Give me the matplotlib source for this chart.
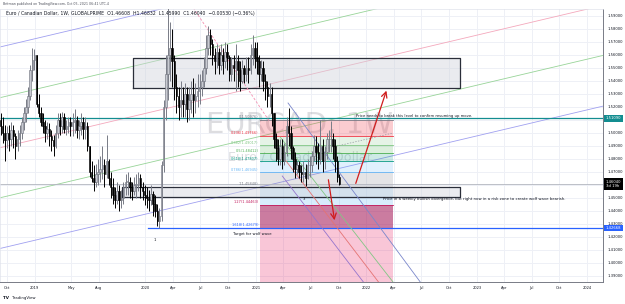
import matplotlib
matplotlib.use("Agg")
import matplotlib.pyplot as plt
import matplotlib.dates as mdates
import numpy as np
import pandas as pd

plt.rcParams['font.family'] = ['DejaVu Sans']

# weekly EURCAD candles, first week 2018-09-10
first_open = 1.5100
closes = [
    1.5050, 1.5000, 1.4940,
    1.5000, 1.4950, 1.5020, 1.4970, 1.4900,
    1.4950, 1.5000, 1.5080, 1.5150,
    1.5200, 1.5280, 1.5480, 1.5560, 1.5600,
    1.5220, 1.5150, 1.5080, 1.5050,
    1.5000, 1.5030, 1.4970, 1.4940,
    1.4900, 1.5000, 1.5100, 1.5050,
    1.5120, 1.5030, 1.5050, 1.5080, 1.5050,
    1.5080, 1.5100, 1.5020, 1.5050,
    1.5080, 1.5030, 1.5050, 1.4900,
    1.4700, 1.4650, 1.4620, 1.4680, 1.4700,
    1.4720, 1.4750, 1.4680, 1.4780,
    1.4650, 1.4580, 1.4520, 1.4480, 1.4550,
    1.4480, 1.4500, 1.4580, 1.4620,
    1.4620, 1.4580, 1.4550, 1.4600,
    1.4600, 1.4650, 1.4580, 1.4550, 1.4520,
    1.4500, 1.4480, 1.4530, 1.4450,
    1.4400, 1.4320, 1.4360, 1.4750,
    1.5200, 1.5450, 1.5600, 1.5650, 1.5550,
    1.5350, 1.5280, 1.5200, 1.5250,
    1.5220, 1.5300, 1.5180, 1.5250,
    1.5300, 1.5250, 1.5280, 1.5320, 1.5350,
    1.5400, 1.5500, 1.5650, 1.5750,
    1.5680, 1.5600, 1.5550, 1.5620, 1.5520,
    1.5600, 1.5550, 1.5620, 1.5580,
    1.5450, 1.5520, 1.5500, 1.5550,
    1.5480, 1.5400, 1.5500, 1.5450, 1.5500,
    1.5480, 1.5600, 1.5650, 1.5580,
    1.5550, 1.5450, 1.5500, 1.5400,
    1.5350, 1.5280, 1.5300, 1.5150,
    1.4950, 1.4880, 1.4800, 1.4900, 1.4780,
    1.4850, 1.5050, 1.5000, 1.4880,
    1.4800, 1.4720, 1.4750, 1.4700, 1.4680,
    1.4700, 1.4650, 1.4750, 1.4750,
    1.4820, 1.4900, 1.4850, 1.4800,
    1.4900, 1.4780, 1.4850, 1.4950, 1.4950,
    1.4950, 1.4900, 1.4780, 1.4661,
    1.4604,
]
highs = [
    1.5150, 1.5120, 1.5060,
    1.5050, 1.5060, 1.5080, 1.5060, 1.5000,
    1.5020, 1.5060, 1.5120, 1.5200,
    1.5260, 1.5350, 1.5520, 1.5650, 1.5640,
    1.5600, 1.5300, 1.5200, 1.5150,
    1.5100, 1.5080, 1.5070, 1.5020,
    1.4980, 1.5060, 1.5150, 1.5150,
    1.5160, 1.5150, 1.5100, 1.5120, 1.5120,
    1.5150, 1.5180, 1.5130, 1.5100,
    1.5150, 1.5120, 1.5120, 1.5080,
    1.4900, 1.4780, 1.4750, 1.4760, 1.4800,
    1.4820, 1.4900, 1.4800, 1.4980,
    1.4800, 1.4700, 1.4650, 1.4580, 1.4620,
    1.4600, 1.4560, 1.4620, 1.4680,
    1.4700, 1.4660, 1.4620, 1.4660,
    1.4680, 1.4700, 1.4680, 1.4620, 1.4600,
    1.4580, 1.4560, 1.4600, 1.4550,
    1.4520, 1.4450, 1.4420, 1.4780,
    1.5250, 1.5600, 1.6000, 1.5850, 1.5800,
    1.5600, 1.5450, 1.5350, 1.5400,
    1.5350, 1.5380, 1.5350, 1.5350,
    1.5400, 1.5420, 1.5380, 1.5450, 1.5450,
    1.5480, 1.5580, 1.5750, 1.5820,
    1.5800, 1.5720, 1.5650, 1.5680, 1.5650,
    1.5680, 1.5650, 1.5700, 1.5680,
    1.5600, 1.5580, 1.5600, 1.5680,
    1.5600, 1.5550, 1.5560, 1.5520, 1.5580,
    1.5580, 1.5680, 1.5750, 1.5700,
    1.5700, 1.5600, 1.5560, 1.5550,
    1.5450, 1.5400, 1.5380, 1.5350,
    1.5120, 1.5000, 1.4950, 1.4950, 1.4950,
    1.4920, 1.5120, 1.5190, 1.5050,
    1.4900, 1.4850, 1.4780, 1.4780, 1.4750,
    1.4780, 1.4760, 1.4800, 1.4820,
    1.4860, 1.4980, 1.4970, 1.4920,
    1.5098, 1.4950, 1.4900, 1.5000, 1.5020,
    1.5090, 1.5000, 1.4950, 1.4820,
    1.46832,
]
lows = [
    1.4980, 1.4920, 1.4780,
    1.4880, 1.4860, 1.4900, 1.4880, 1.4800,
    1.4860, 1.4900, 1.4950, 1.5020,
    1.5080, 1.5150, 1.5250, 1.5400, 1.5480,
    1.5200, 1.5120, 1.5050, 1.5000,
    1.4930, 1.4950, 1.4900, 1.4860,
    1.4820, 1.4880, 1.4960, 1.4980,
    1.5000, 1.5000, 1.4980, 1.5000, 1.4970,
    1.4970, 1.5000, 1.4960, 1.4950,
    1.4980, 1.4950, 1.4950, 1.4860,
    1.4660, 1.4620, 1.4550, 1.4580, 1.4600,
    1.4620, 1.4640, 1.4580, 1.4650,
    1.4600, 1.4500, 1.4450, 1.4420, 1.4450,
    1.4400, 1.4420, 1.4450, 1.4520,
    1.4520, 1.4500, 1.4480, 1.4520,
    1.4500, 1.4550, 1.4500, 1.4480, 1.4440,
    1.4420, 1.4400, 1.4440, 1.4360,
    1.4350, 1.4280, 1.4267, 1.4320,
    1.4700, 1.5100, 1.5250, 1.5400, 1.5350,
    1.5250, 1.5150, 1.5100, 1.5120,
    1.5120, 1.5120, 1.5080, 1.5100,
    1.5150, 1.5120, 1.5150, 1.5200, 1.5220,
    1.5280, 1.5350, 1.5450, 1.5600,
    1.5600, 1.5520, 1.5450, 1.5500, 1.5450,
    1.5480, 1.5450, 1.5500, 1.5480,
    1.5400, 1.5400, 1.5400, 1.5320,
    1.5350, 1.5320, 1.5380, 1.5380, 1.5400,
    1.5380, 1.5450, 1.5520, 1.5500,
    1.5450, 1.5350, 1.5400, 1.5320,
    1.5250, 1.5200, 1.5200, 1.5050,
    1.4880, 1.4780, 1.4750, 1.4750, 1.4720,
    1.4750, 1.4820, 1.4900, 1.4800,
    1.4700, 1.4650, 1.4680, 1.4650, 1.4620,
    1.4620, 1.4585, 1.4640, 1.4660,
    1.4700, 1.4780, 1.4760, 1.4720,
    1.4760, 1.4700, 1.4720, 1.4800, 1.4850,
    1.4850, 1.4800, 1.4700, 1.4620,
    1.4599,
]

xtick_dates = ['2018-10-01', '2019-01-01', '2019-05-01', '2019-08-01', '2020-01-01',
               '2020-04-01', '2020-07-01', '2020-10-01', '2021-01-01', '2021-04-01',
               '2021-07-01', '2021-10-01', '2022-01-01', '2022-04-01', '2022-07-01',
               '2022-10-01', '2023-01-01', '2023-04-01', '2023-07-01', '2023-10-01',
               '2024-01-01']
xtick_labels = ['Oct', '2019', 'May', 'Aug', '2020', 'Apr', 'Jul', 'Oct', '2021', 'Apr',
                'Jul', 'Oct', '2022', 'Apr', 'Jul', 'Oct', '2023', 'Apr', 'Jul', 'Oct', '2024']
price_ticks = [1.39, 1.40, 1.41, 1.42, 1.43, 1.44, 1.45, 1.46, 1.47, 1.48, 1.49, 1.50,
               1.51, 1.52, 1.53, 1.54, 1.55, 1.56, 1.57, 1.58, 1.59]

# fibonacci tool
fib_ratios = [0, 0.236, 0.382, 0.5, 0.618, 0.786, 1, 1.27, 1.618]
fib_colors = ['#787b86', '#f23645', '#81c784', '#4caf50', '#089981', '#64b5f6',
              '#787b86', '#c2185b', '#2962ff']
fib_p0, fib_p1 = 1.50976, 1.45848

last_price = 1.46040
resist_price = 1.51090
target_price = 1.42668


def d(s):
    return mdates.date2num(pd.Timestamp(s))


dates = mdates.date2num(pd.date_range('2018-09-10', periods=len(closes), freq='W-MON'))
c = np.array(closes)
o = np.concatenate([[first_open], c[:-1]])
o[-1] = 1.46608
h = np.maximum(np.array(highs), np.maximum(o, c))
l = np.minimum(np.array(lows), np.minimum(o, c))
up = c >= o

fig = plt.figure(figsize=(6.25, 3.04), dpi=100)
ax = fig.add_axes([0, 22 / 304, 603 / 625, 273 / 304])
ax.set_xlim(d('2018-09-08'), d('2024-02-22'))
ax.set_ylim(1.38502, 1.59502)

# grid
for xd in xtick_dates:
    ax.axvline(d(xd), color='#eef0f6', lw=0.7, zorder=0)
for p in price_ticks:
    ax.axhline(p, color='#eef0f6', lw=0.7, zorder=0)

# watermark
ax.text(0.4975, 0.575, 'EURCAD, 1W', transform=ax.transAxes, ha='center', va='center',
        fontsize=21, color='#787b86', alpha=0.25, zorder=0)
ax.text(0.4975, 0.458, 'Euro / Canadian Dollar', transform=ax.transAxes, ha='center',
        va='center', fontsize=9.2, color='#787b86', alpha=0.25, zorder=0)

# regression-style channel
ch_x = [d('2018-09-08'), d('2024-02-22')]
ch_mid = np.array([1.4883, 1.5978])
for off, col in [(0.0775, '#a0a0f0'), (0.0385, '#98d498'), (0.0, '#f4a8bc'),
                 (-0.0385, '#98d498'), (-0.0775, '#a0a0f0')]:
    ax.plot(ch_x, ch_mid + off, color=col, lw=0.6, zorder=1)

# fib zones
fx0, fx1 = d('2021-01-15'), d('2022-03-30')
fib_prices = [fib_p0 + r * (fib_p1 - fib_p0) for r in fib_ratios]
zone_cols = ['#f23645', '#81c784', '#4caf50', '#089981', '#64b5f6', '#787b86',
             '#64b5f6', '#880e4f']
zone_alpha = [0.25, 0.2, 0.2, 0.2, 0.2, 0.2, 0.25, 0.4]
ax.fill_between([fx0, fx1], fib_prices[7], 1.38, color='#e91e63', alpha=0.25, lw=0, zorder=1)
for i in range(len(fib_prices) - 1):
    ax.fill_between([fx0, fx1], fib_prices[i], fib_prices[i + 1], color=zone_cols[i],
                    alpha=zone_alpha[i], lw=0, zorder=1)
for r, p, col in zip(fib_ratios, fib_prices, fib_colors):
    ax.plot([fx0, fx1], [p, p], color=col, lw=0.6, zorder=2)
    ax.text(d('2021-01-10'), p + 0.0003, '%g(%.5f)' % (r, p), color=col, fontsize=2.5,
            ha='right', va='bottom', zorder=5)

# boxes
for (xa, xb, pa, pb) in [('2019-11-22', '2022-11-07', 1.53425, 1.55732),
                         ('2019-10-16', '2022-11-07', 1.45040, 1.45809)]:
    ax.fill_between([d(xa), d(xb)], pa, pb, facecolor='#d1d4dc', alpha=0.45, lw=0, zorder=2)
    ax.plot([d(xa), d(xb), d(xb), d(xa), d(xa)], [pa, pa, pb, pb, pa], color='#2a2e39',
            lw=0.9, zorder=2)

# horizontal levels
ax.axhline(resist_price, color='#138d90', lw=0.9, zorder=2)
ax.axhline(last_price, color='#b2b5be', lw=0.6, zorder=2)
ax.plot([d('2020-01-10'), d('2024-02-22')], [target_price, target_price], color='#2962ff',
        lw=0.9, zorder=2)

# dashed diagonal
ax.plot([d('2020-06-08'), d('2021-02-14')], [1.59578, 1.50886], color='#f48fb1', lw=0.6,
        ls=(0, (3, 2)), zorder=2)
# dotted line
ax.plot([d('2021-08-01'), d('2022-03-30')], [1.48655, 1.49963], color='#9598a1', lw=0.5,
        ls=(0, (2, 2)), zorder=2)

# descending parallel lines
for (xa, pa, xb, pb, col) in [('2021-04-17', 1.52271, '2022-06-28', 1.38502, '#7986cb'),
                              ('2021-03-22', 1.49655, '2022-03-30', 1.38502, '#81c784'),
                              ('2021-04-08', 1.47886, '2022-02-10', 1.38502, '#e57373'),
                              ('2021-03-29', 1.46655, '2021-12-22', 1.38502, '#9575cd')]:
    ax.plot([d(xa), d(xb)], [pa, pb], color=col, lw=0.6, zorder=2)

# candles
ax.vlines(dates, l, h, colors=np.where(up, '#787b86', '#000000'), lw=0.7, zorder=3)
ax.bar(dates, np.maximum(np.abs(c - o), 0.0004), bottom=np.minimum(o, c), width=5.0,
       color=np.where(up, '#c8cad2', '#000000'), edgecolor=np.where(up, '#6a6d78', '#000000'),
       linewidth=0.4, zorder=3)

# arrows
ax.annotate('', xy=(d('2022-03-11'), 1.53425), xytext=(d('2021-11-24'), 1.45886),
            arrowprops=dict(arrowstyle='->', color='#d01c1c', lw=0.9), zorder=4)
ax.annotate('', xy=(d('2021-09-19'), 1.4304), xytext=(d('2021-08-27'), 1.46578),
            arrowprops=dict(arrowstyle='->', color='#d01c1c', lw=0.9), zorder=4)

# notes
ax.text(d('2021-11-28'), 1.5127, 'Price needs to break this level to confirm resuming up move.',
        fontsize=2.7, color='#131722', va='center', zorder=5)
ax.text(d('2022-02-25'), 1.44886,
        'Price in a weekly bullish divergence, but right now in a risk zone to create wolf wave bearish.',
        fontsize=2.75, color='#131722', va='center', zorder=5)
ax.text(d('2020-10-18'), 1.42194, 'Target for wolf wave', fontsize=2.7, color='#131722',
        va='center', zorder=5)
ax.text(d('2020-02-03'), 1.4173, '1', fontsize=2.7, color='#131722', ha='center', va='center')
ax.text(d('2021-06-07'), 1.4489, '3', fontsize=2.7, color='#131722', ha='center', va='center')

# axes styling
ax.set_xticks([d(x) for x in xtick_dates])
ax.set_xticklabels(xtick_labels, fontsize=2.6, color='#131722')
ax.yaxis.tick_right()
ax.set_yticks(price_ticks)
ax.set_yticklabels(['%.5f' % p for p in price_ticks], fontsize=2.7, color='#131722')
ax.tick_params(length=0, pad=3)
for s in ['left', 'top']:
    ax.spines[s].set_color('#e0e3eb')
    ax.spines[s].set_linewidth(0.5)
for s in ['right', 'bottom']:
    ax.spines[s].set_color('#787b86')
    ax.spines[s].set_linewidth(0.7)

# price scale labels
for p, txt, bg in [(resist_price, '1.51090', '#138d90'), (last_price, '1.46040\n3d 19h', '#000000'),
                   (target_price, '1.42668', '#2962ff')]:
    ax.annotate(txt, xy=(1.0, p), xycoords=('axes fraction', 'data'), xytext=(2, 0),
                textcoords='offset points', fontsize=2.7, color='white', va='center',
                ha='left', linespacing=1.3,
                bbox=dict(boxstyle='square,pad=0.35', fc=bg, ec='none'), annotation_clip=False,
                zorder=6)

# header / legend / footer
fig.text(3 / 625, 1 - 4 / 304, 'Britman published on TradingView.com, Oct 05, 2021 06:41 UTC-4',
         fontsize=2.3, color='#50535e', va='center')
ax.text(6 / 603, 1 - 5 / 273,
        'Euro / Canadian Dollar, 1W, GLOBALPRIME  O1.46608  H1.46832  L1.45990  C1.46040  \u22120.00530 (\u22120.36%)',
        transform=ax.transAxes, fontsize=3.3, color='#131722', va='center', zorder=6)
fig.text(3 / 625, 1 - 298 / 304, 'TV', fontsize=3, fontweight='bold', color='#131722', va='center')
fig.text(12 / 625, 1 - 298 / 304, 'TradingView', fontsize=2.8, color='#131722', va='center')

fig.savefig('out.png', dpi=100)
